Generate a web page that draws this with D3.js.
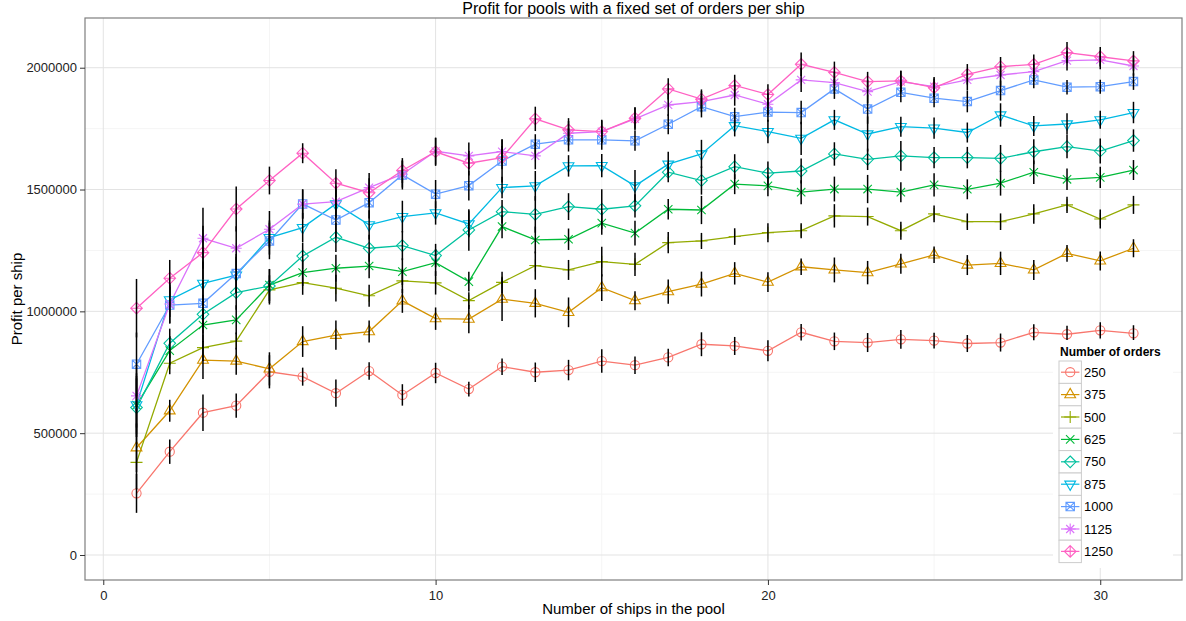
<!DOCTYPE html>
<html>
<head>
<meta charset="utf-8">
<script src="https://d3js.org/d3.v7.min.js"></script>
<style>
  body { margin: 0; background: #fff; }
  svg { display: block; font-family: "Liberation Sans", Arial, sans-serif; }
</style>
</head>
<body>
<svg id="chart"></svg>
<script>
// ships in the pool
var ships = d3.range(1, 32);

var orderLabels = ["250", "375", "500", "625", "750", "875", "1000", "1125", "1250"];

var s250 = [253000, 424000, 584000, 613000, 752000, 732000, 664000, 755000, 657000, 747000, 681000, 773000, 750000, 759000, 796000, 779000, 811000, 865000, 858000, 838000, 914000, 877000, 872000, 885000, 880000, 868000, 872000, 914000, 906000, 922000, 910000];
var e250 = [80000, 50000, 75000, 50000, 68000, 37000, 56000, 36000, 44000, 42000, 30000, 34000, 40000, 42000, 48000, 36000, 36000, 49000, 37000, 43000, 34000, 36000, 39000, 38000, 32000, 35000, 37000, 33000, 35000, 33000, 33000];

var s375 = [440000, 592000, 800000, 796000, 764000, 876000, 902000, 917000, 1043000, 970000, 968000, 1050000, 1033000, 996000, 1097000, 1044000, 1081000, 1112000, 1156000, 1120000, 1183000, 1170000, 1159000, 1195000, 1232000, 1190000, 1197000, 1170000, 1238000, 1207000, 1259000];
var e375 = [100000, 45000, 78000, 56000, 68000, 63000, 60000, 45000, 49000, 46000, 58000, 90000, 58000, 61000, 55000, 39000, 50000, 51000, 46000, 41000, 34000, 51000, 48000, 41000, 34000, 41000, 48000, 41000, 34000, 39000, 37000];

var s500 = [380000, 787000, 851000, 878000, 1088000, 1118000, 1095000, 1064000, 1125000, 1117000, 1044000, 1119000, 1188000, 1170000, 1204000, 1193000, 1282000, 1289000, 1307000, 1323000, 1331000, 1392000, 1389000, 1331000, 1400000, 1368000, 1368000, 1400000, 1437000, 1379000, 1437000];
var e500 = [110000, 45000, 55000, 35000, 60000, 50000, 55000, 45000, 50000, 48000, 34000, 44000, 58000, 41000, 61000, 48000, 44000, 33000, 34000, 39000, 31000, 48000, 37000, 37000, 34000, 34000, 34000, 40000, 33000, 39000, 37000];

var s625 = [615000, 839000, 944000, 965000, 1108000, 1159000, 1177000, 1186000, 1163000, 1200000, 1122000, 1348000, 1293000, 1296000, 1362000, 1321000, 1419000, 1416000, 1522000, 1515000, 1489000, 1502000, 1502000, 1489000, 1519000, 1501000, 1526000, 1571000, 1542000, 1550000, 1580000];
var e625 = [120000, 60000, 70000, 60000, 65000, 55000, 55000, 50000, 55000, 55000, 41000, 48000, 55000, 44000, 48000, 51000, 42000, 58000, 41000, 43000, 49000, 51000, 58000, 41000, 48000, 41000, 51000, 48000, 44000, 44000, 41000];

var s750 = [605000, 869000, 988000, 1077000, 1104000, 1227000, 1304000, 1259000, 1270000, 1229000, 1334000, 1409000, 1398000, 1430000, 1419000, 1433000, 1571000, 1537000, 1594000, 1567000, 1576000, 1646000, 1624000, 1638000, 1631000, 1631000, 1628000, 1655000, 1676000, 1658000, 1701000];
var e750 = [120000, 60000, 80000, 70000, 70000, 55000, 60000, 55000, 60000, 48000, 85000, 48000, 75000, 55000, 82000, 48000, 41000, 58000, 51000, 48000, 51000, 48000, 44000, 61000, 44000, 44000, 55000, 51000, 48000, 51000, 46000];

var s875 = [616000, 1047000, 1115000, 1149000, 1303000, 1344000, 1441000, 1355000, 1389000, 1404000, 1359000, 1508000, 1515000, 1597000, 1598000, 1515000, 1604000, 1646000, 1762000, 1738000, 1710000, 1786000, 1728000, 1758000, 1752000, 1734000, 1806000, 1761000, 1769000, 1786000, 1816000];
var e875 = [130000, 70000, 90000, 75000, 70000, 60000, 60000, 60000, 65000, 48000, 55000, 44000, 61000, 44000, 48000, 65000, 51000, 58000, 44000, 48000, 68000, 41000, 72000, 41000, 44000, 41000, 48000, 41000, 44000, 37000, 44000];

var s1000 = [783000, 1026000, 1033000, 1155000, 1289000, 1441000, 1375000, 1446000, 1560000, 1481000, 1516000, 1617000, 1686000, 1704000, 1704000, 1700000, 1768000, 1840000, 1799000, 1818000, 1816000, 1913000, 1830000, 1899000, 1875000, 1861000, 1906000, 1950000, 1920000, 1922000, 1943000];
var e1000 = [130000, 75000, 95000, 80000, 75000, 60000, 70000, 65000, 60000, 58000, 61000, 88000, 41000, 48000, 41000, 41000, 41000, 44000, 37000, 40000, 48000, 41000, 60000, 41000, 37000, 44000, 41000, 34000, 30000, 29000, 34000];

var s1125 = [653000, 1030000, 1300000, 1259000, 1337000, 1440000, 1450000, 1508000, 1563000, 1657000, 1638000, 1656000, 1638000, 1731000, 1738000, 1790000, 1847000, 1861000, 1888000, 1850000, 1950000, 1939000, 1902000, 1943000, 1922000, 1950000, 1970000, 1984000, 2029000, 2032000, 2007000];
var e1125 = [130000, 80000, 125000, 90000, 75000, 60000, 65000, 60000, 55000, 55000, 55000, 50000, 55000, 50000, 48000, 48000, 45000, 44000, 44000, 45000, 50000, 45000, 48000, 44000, 40000, 44000, 44000, 40000, 40000, 38000, 40000];

var s1250 = [1013000, 1136000, 1241000, 1420000, 1537000, 1649000, 1526000, 1487000, 1578000, 1655000, 1608000, 1631000, 1790000, 1745000, 1738000, 1793000, 1913000, 1871000, 1927000, 1890000, 2014000, 1981000, 1943000, 1946000, 1918000, 1973000, 2004000, 2014000, 2062000, 2045000, 2028000];
var e1250 = [120000, 75000, 110000, 92000, 57000, 41000, 57000, 59000, 51000, 58000, 50000, 48000, 50000, 48000, 45000, 44000, 44000, 40000, 44000, 42000, 48000, 44000, 40000, 42000, 38000, 42000, 40000, 40000, 44000, 40000, 40000];

var xTicks = [0, 10, 20, 30];
var yTicks = [0, 500000, 1000000, 1500000, 2000000];

var colors = ["#F8766D", "#D39200", "#93AA00", "#00BA38", "#00C19F", "#00B9E3", "#619CFF", "#DB72FB", "#FF61C3"];
var shapes = ["circle", "triangle", "plus", "cross", "diamond", "triangleDown", "squareCross", "asterisk", "diamondPlus"];

var seriesValues = [s250, s375, s500, s625, s750, s875, s1000, s1125, s1250];
var seriesErrors = [e250, e375, e500, e625, e750, e875, e1000, e1125, e1250];

var series = orderLabels.map(function(label, k){
  return {
    label: label,
    color: colors[k],
    shape: shapes[k],
    points: ships.map(function(s, i){
      return { x: s, y: seriesValues[k][i], err: seriesErrors[k][i] };
    })
  };
});

// marker outlines, drawn around 0,0
var shapePath = function(type){
  var r = 4.6, d = 5.8, p = 6, c = 4.2, q = 4.2;
  var circle = "M" + (-r) + ",0a" + r + "," + r + " 0 1,0 " + (2 * r) + ",0a" + r + "," + r + " 0 1,0 " + (-2 * r) + ",0Z";
  var plus = "M" + (-p) + ",0H" + p + "M0," + (-p) + "V" + p;
  var cross = "M" + (-c) + "," + (-c) + "L" + c + "," + c + "M" + (-c) + "," + c + "L" + c + "," + (-c);
  var diamond = "M0," + (-d) + "L" + d + ",0L0," + d + "L" + (-d) + ",0Z";
  if (type == "circle") return circle;
  if (type == "triangle") return "M0,-6.2L5.4,3.1L-5.4,3.1Z";
  if (type == "triangleDown") return "M0,6.2L5.4,-3.1L-5.4,-3.1Z";
  if (type == "plus") return plus;
  if (type == "cross") return cross;
  if (type == "diamond") return diamond;
  if (type == "squareCross") return "M" + (-q) + "," + (-q) + "H" + q + "V" + q + "H" + (-q) + "Z" +
      "M" + (-q) + "," + (-q) + "L" + q + "," + q + "M" + (-q) + "," + q + "L" + q + "," + (-q);
  if (type == "asterisk") return "M-5.5,0H5.5M0,-5.5V5.5M-4,-4L4,4M-4,4L4,-4";
  if (type == "diamondPlus") return diamond + "M" + (-d) + ",0H" + d + "M0," + (-d) + "V" + d;
};

var screen = { width: 1186, height: 621 };
var panel = { left: 85, right: 1182, top: 18, bottom: 580 };

var svg = d3.select("#chart")
            .attr("width", screen.width)
            .attr("height", screen.height);

var xScale = d3.scaleLinear()
               .domain([-0.55, 32.46])
               .range([panel.left, panel.right]);
var yScale = d3.scaleLinear()
               .domain([-102600, 2204000])
               .range([panel.bottom, panel.top]);

// grid
var grid = svg.append("g");
grid.selectAll(".yminor")
    .data([250000, 750000, 1250000, 1750000])
    .enter().append("line")
    .attr("x1", panel.left).attr("x2", panel.right)
    .attr("y1", function(d){ return yScale(d); })
    .attr("y2", function(d){ return yScale(d); })
    .attr("stroke", "#f5f5f5").attr("stroke-width", 1);
grid.selectAll(".xminor")
    .data([5, 15, 25])
    .enter().append("line")
    .attr("y1", panel.top).attr("y2", panel.bottom)
    .attr("x1", function(d){ return xScale(d); })
    .attr("x2", function(d){ return xScale(d); })
    .attr("stroke", "#f5f5f5").attr("stroke-width", 1);
grid.selectAll(".ymajor")
    .data(yTicks)
    .enter().append("line")
    .attr("x1", panel.left).attr("x2", panel.right)
    .attr("y1", function(d){ return yScale(d); })
    .attr("y2", function(d){ return yScale(d); })
    .attr("stroke", "#e3e3e3").attr("stroke-width", 1);
grid.selectAll(".xmajor")
    .data(xTicks)
    .enter().append("line")
    .attr("y1", panel.top).attr("y2", panel.bottom)
    .attr("x1", function(d){ return xScale(d); })
    .attr("x2", function(d){ return xScale(d); })
    .attr("stroke", "#e3e3e3").attr("stroke-width", 1);

var plot = svg.append("g");

var line = d3.line()
             .x(function(d){ return xScale(d.x); })
             .y(function(d){ return yScale(d.y); });

plot.selectAll(".series-line")
    .data(series)
    .enter().append("path")
    .attr("d", function(d){ return line(d.points); })
    .attr("fill", "none")
    .attr("stroke", function(d){ return d.color; })
    .attr("stroke-width", 1.3);

series.forEach(function(s){
  plot.append("g")
      .selectAll("path")
      .data(s.points)
      .enter().append("path")
      .attr("d", shapePath(s.shape))
      .attr("transform", function(d){ return "translate(" + xScale(d.x) + "," + yScale(d.y) + ")"; })
      .attr("fill", "none")
      .attr("stroke", s.color)
      .attr("stroke-width", 1.1);
});

// error bars on top
series.forEach(function(s){
  plot.append("g")
      .selectAll("line")
      .data(s.points)
      .enter().append("line")
      .attr("x1", function(d){ return xScale(d.x); })
      .attr("x2", function(d){ return xScale(d.x); })
      .attr("y1", function(d){ return yScale(d.y - d.err); })
      .attr("y2", function(d){ return yScale(d.y + d.err); })
      .attr("stroke", "#000")
      .attr("stroke-width", 1.5);
});

// panel border
svg.append("rect")
   .attr("x", panel.left).attr("y", panel.top)
   .attr("width", panel.right - panel.left)
   .attr("height", panel.bottom - panel.top)
   .attr("fill", "none")
   .attr("stroke", "#7f7f7f")
   .attr("stroke-width", 1.2);

// axes
var xAxis = d3.axisBottom(xScale).tickValues(xTicks).tickSize(5).tickSizeOuter(0);
var yAxis = d3.axisLeft(yScale).tickValues(yTicks).tickSize(5).tickSizeOuter(0).tickFormat(d3.format("d"));

var gx = svg.append("g")
   .attr("transform", "translate(0," + panel.bottom + ")")
   .call(xAxis);
var gy = svg.append("g")
   .attr("transform", "translate(" + panel.left + ",0)")
   .call(yAxis);
[gx, gy].forEach(function(g){
  g.select(".domain").remove();
  g.selectAll(".tick line").attr("stroke", "#333");
  g.selectAll(".tick text")
   .attr("fill", "#222")
   .style("font-size", "13px")
   .style("font-family", "'Liberation Sans', Arial, sans-serif");
});
gx.selectAll(".tick text").attr("dy", "0.9em");

svg.append("text")
   .attr("x", (panel.left + panel.right) / 2)
   .attr("y", 14)
   .attr("text-anchor", "middle")
   .style("font-size", "16px")
   .text("Profit for pools with a fixed set of orders per ship");

svg.append("text")
   .attr("x", (panel.left + panel.right) / 2)
   .attr("y", 614)
   .attr("text-anchor", "middle")
   .style("font-size", "15px")
   .text("Number of ships in the pool");

svg.append("text")
   .attr("transform", "translate(22," + ((panel.top + panel.bottom) / 2) + ") rotate(-90)")
   .attr("text-anchor", "middle")
   .style("font-size", "15px")
   .text("Profit per ship");

// legend
var legend = svg.append("g").attr("transform", "translate(1053,340)");
legend.append("rect")
      .attr("x", 0).attr("y", 0)
      .attr("width", 120).attr("height", 228)
      .attr("fill", "#fff");
legend.append("text")
      .attr("x", 7).attr("y", 16)
      .style("font-size", "12px")
      .style("font-weight", "bold")
      .text("Number of orders");

var keys = legend.selectAll(".key")
      .data(series)
      .enter().append("g")
      .attr("transform", function(d, i){ return "translate(6," + (21 + i * 22.4) + ")"; });
keys.append("rect")
    .attr("width", 22.4).attr("height", 22.4)
    .attr("fill", "#fff")
    .attr("stroke", "#cccccc")
    .attr("stroke-width", 1);
keys.append("line")
    .attr("x1", 2).attr("x2", 20.4)
    .attr("y1", 11.2).attr("y2", 11.2)
    .attr("stroke", function(d){ return d.color; })
    .attr("stroke-width", 1.2);
keys.append("path")
    .attr("d", function(d){ return shapePath(d.shape); })
    .attr("transform", "translate(11.2,11.2)")
    .attr("fill", "none")
    .attr("stroke", function(d){ return d.color; })
    .attr("stroke-width", 1.1);
keys.append("text")
    .attr("x", 25).attr("y", 11.2)
    .attr("dy", "0.35em")
    .style("font-size", "13px")
    .text(function(d){ return d.label; });
</script>
</body>
</html>
